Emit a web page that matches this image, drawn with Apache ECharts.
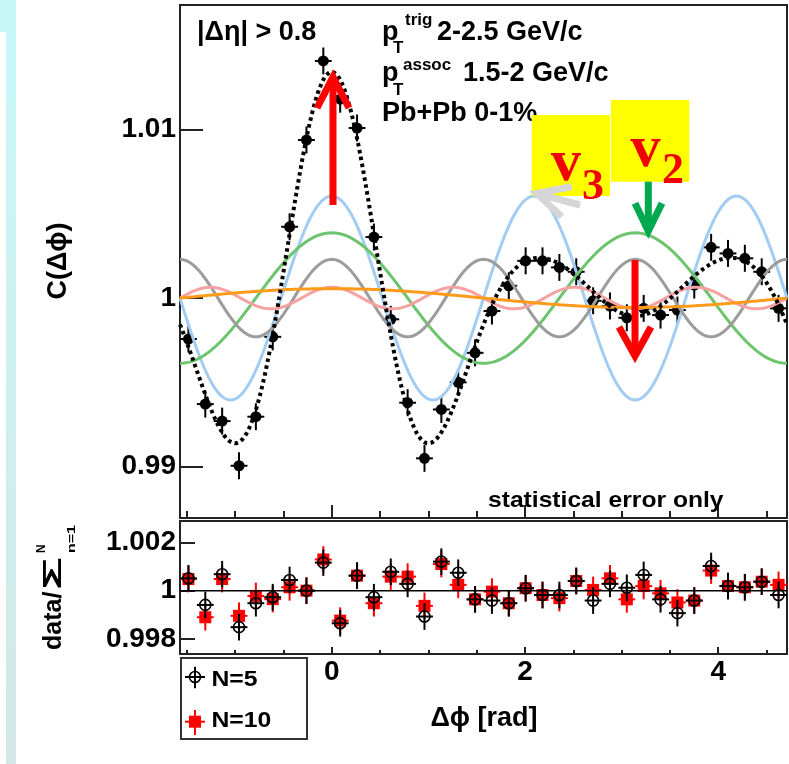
<!DOCTYPE html>
<html><head><meta charset="utf-8">
<script src="https://cdn.jsdelivr.net/npm/echarts@6/dist/echarts.min.js"></script>
<style>html,body{margin:0;padding:0;background:#fff}#c{width:789px;height:764px}</style>
</head><body><div id="c"></div>
<script>
// ---------------- data ----------------
const xMin = -Math.PI / 2, xMax = 3 * Math.PI / 2;
const binHalfWidth = Math.PI / 36;
const binCenters = [-1.4835,-1.3090,-1.1345,-0.9599,-0.7854,-0.6109,-0.4363,-0.2618,-0.0873,0.0873,0.2618,0.4363,
  0.6109,0.7854,0.9599,1.1345,1.3090,1.4835,1.6581,1.8326,2.0071,2.1817,2.3562,2.5307,
  2.7053,2.8798,3.0543,3.2289,3.4034,3.5779,3.7525,3.9270,4.1015,4.2761,4.4506,4.6251];
const corrData = [0.99757,0.99371,0.99270,0.99005,0.99296,0.99770,1.00423,1.00938,1.01407,1.01180,1.01009,1.00362,
  0.99874,0.99379,0.99049,0.99339,0.99500,0.99675,0.99923,1.00073,1.00221,1.00221,1.00182,1.00156,
  0.99984,0.99953,0.99883,0.99939,0.99899,0.99929,1.00077,1.00301,1.00265,1.00236,1.00156,0.99939];
const corrErr = 0.0008;
const ratioN5 = [1.00051,0.99941,1.00068,0.99849,0.99948,0.99973,1.00044,1.00000,1.00116,0.99865,1.00062,0.99973,
  1.00078,1.00028,0.99893,1.00120,1.00074,0.99964,0.99959,0.99948,1.00010,0.99982,0.99982,1.00040,
  0.99959,1.00028,1.00012,1.00065,0.99964,0.99907,0.99959,1.00102,1.00019,1.00014,1.00037,0.99982];
const ratioN10 = [1.00048,0.99890,1.00048,0.99896,0.99978,0.99965,1.00014,1.00000,1.00129,0.99876,1.00062,0.99948,
  1.00058,1.00058,0.99937,1.00110,1.00024,0.99964,0.99996,0.99948,1.00010,0.99982,0.99969,1.00040,
  1.00003,1.00051,0.99964,1.00019,0.99989,0.99951,0.99959,1.00083,1.00019,1.00014,1.00037,1.00024];
const ratioErr = 0.00055;
// Fourier harmonics 1 + 2 v_n cos(n Δφ): order n and amplitude 2v_n
const harmonicN = [1, 2, 3, 4, 5];
const harmonicAmp = [0.00056, 0.00387, 0.00605, 0.00230, 0.00064];
const harmonicColor = ['#ff9a1a', '#6cc46c', '#a2ccf2', '#9c9c9c', '#f6a2a2'];
const drawOrder = [2, 1, 3, 4, 0];
const xMajorTicks = [0, 2, 4];
const xMinorTicks = [-1.5, -1, -0.5, 0.5, 1, 1.5, 2.5, 3, 3.5, 4.5];
const yTicksUpper = [0.99, 1, 1.01];
const yTicksLower = [0.998, 1, 1.002];

// ---------------- build ----------------
const sampleX = [];
for (let k = 0; k <= 300; k++) sampleX.push(xMin + (xMax - xMin) * k / 300);
const harmonicCurve = i => sampleX.map(x => [x, 1 + harmonicAmp[i] * Math.cos(harmonicN[i] * x)]);
const fitCurve = sampleX.map(x => {
  let s = 1; harmonicN.forEach((n, i) => { s += harmonicAmp[i] * Math.cos(n * x); }); return [x, s];
});
const pts = arr => binCenters.map((x, i) => [x, arr[i]]);

const FONT = '"Liberation Sans", Arial, Helvetica, sans-serif';
const SERIF = '"Liberation Serif", "Times New Roman", serif';

function errRender(color, marker, errY) {
  return function (params, api) {
    const x = api.value(0), y = api.value(1);
    const c = api.coord([x, y]);
    const t = api.coord([x, y + errY]), b = api.coord([x, y - errY]);
    const l = api.coord([x - binHalfWidth, y]), r = api.coord([x + binHalfWidth, y]);
    const ch = [
      {type: 'line', shape: {x1: c[0], y1: t[1], x2: c[0], y2: b[1]}, style: {stroke: color, lineWidth: 2}},
      {type: 'line', shape: {x1: l[0], y1: c[1], x2: r[0], y2: c[1]}, style: {stroke: color, lineWidth: 2}}
    ];
    if (marker === 'dot') ch.push({type: 'circle', shape: {cx: c[0], cy: c[1], r: 5.5}, style: {fill: color}});
    if (marker === 'open') ch.push({type: 'circle', shape: {cx: c[0], cy: c[1], r: 5.5}, style: {fill: null, stroke: color, lineWidth: 1.6}});
    if (marker === 'square') ch.push({type: 'rect', shape: {x: c[0] - 6, y: c[1] - 6, width: 12, height: 12}, style: {fill: color}});
    return {type: 'group', children: ch};
  };
}

function xAx(gridIndex, ticks, len, labels) {
  return {
    type: 'value', gridIndex, min: xMin, max: xMax, position: 'bottom',
    axisLine: {show: false, onZero: false}, splitLine: {show: false},
    axisTick: {show: true, inside: true, length: len, customValues: ticks, lineStyle: {color: '#222', width: 2}},
    axisLabel: labels ? {show: true, customValues: labels, formatter: v => String(v), margin: 4,
      color: '#000', fontSize: 28, fontWeight: 'bold', fontFamily: FONT} : {show: false}
  };
}
function yAx(gridIndex, min, max, ticks, len) {
  return {
    type: 'value', gridIndex, min, max, position: 'left',
    axisLine: {show: false, onZero: false}, splitLine: {show: false},
    axisTick: {show: true, inside: true, length: len, customValues: ticks, lineStyle: {color: '#222', width: 2}},
    axisLabel: {show: true, customValues: ticks, formatter: v => String(v), margin: 4,
      color: '#000', fontSize: 28, fontWeight: 'bold', fontFamily: FONT}
  };
}

function txt(x, y, text, font, o) {
  o = o || {};
  return {type: 'text', x, y, z: 20, rotation: o.rot || 0, scaleX: o.sx || 1, scaleY: 1,
    style: {text, font, fill: o.fill || '#000', align: o.align || 'left', textAlign: o.align || 'left',
      verticalAlign: 'middle', textVerticalAlign: 'middle'}};
}
function pl(points, color, w, z) {
  return {type: 'polyline', z: z || 20, shape: {points}, style: {stroke: color, lineWidth: w, fill: null, lineJoin: 'miter', lineCap: 'butt'}};
}

const series = [];
drawOrder.forEach(i => series.push({type: 'line', xAxisIndex: 0, yAxisIndex: 0, data: harmonicCurve(i),
  showSymbol: false, symbol: 'none', silent: true, lineStyle: {color: harmonicColor[i], width: 3}}));
series.push({type: 'line', xAxisIndex: 0, yAxisIndex: 0, data: fitCurve, showSymbol: false, symbol: 'none', silent: true,
  lineStyle: {color: '#000', width: 4, type: [3.5, 3.5]}});
series.push({type: 'custom', xAxisIndex: 0, yAxisIndex: 0, data: pts(corrData), renderItem: errRender('#000', 'dot', corrErr), silent: true});
series.push({type: 'line', xAxisIndex: 2, yAxisIndex: 1, data: [[xMin, 1], [xMax, 1]], showSymbol: false, symbol: 'none', silent: true,
  lineStyle: {color: '#000', width: 1.5}});
series.push({type: 'custom', xAxisIndex: 2, yAxisIndex: 1, data: pts(ratioN10), renderItem: errRender('#ff0000', 'square', ratioErr), silent: true});
series.push({type: 'custom', xAxisIndex: 2, yAxisIndex: 1, data: pts(ratioN5), renderItem: errRender('#000', 'open', ratioErr), silent: true});

const HF = 'bold 27px ' + FONT, SF = 'bold 17px ' + FONT;
const graphic = [
  {type: 'rect', z: 1, shape: {x: 0, y: 0, width: 16, height: 32}, style: {fill: '#c8f7f7'}},
  {type: 'rect', z: 1, shape: {x: 6, y: 32, width: 10, height: 732},
    style: {fill: new echarts.graphic.LinearGradient(0, 0, 0, 1, [{offset: 0, color: '#c8f7f7'}, {offset: 1, color: '#d3e7e7'}])}},
  // header text
  txt(197, 33, '|Δη| > 0.8', HF),
  txt(382, 33, 'p', HF), txt(405, 20, 'trig', SF), txt(393, 48, 'T', SF), txt(437, 33, '2-2.5 GeV/c', HF),
  txt(382, 74, 'p', HF), txt(403, 65.5, 'assoc', SF), txt(393, 90, 'T', SF), txt(463, 74, '1.5-2 GeV/c', HF),
  txt(382, 114, 'Pb+Pb 0-1%', HF),
  // yellow boxes
  {type: 'rect', z: 21, shape: {x: 531.7, y: 115, width: 78.3, height: 81}, style: {fill: '#ffff00'}},
  {type: 'rect', z: 21, shape: {x: 611, y: 100, width: 78.3, height: 81.7}, style: {fill: '#ffff00'}},
  // arrows
  pl([[580, 205], [540, 194.3]], '#d6d6d6', 7, 22),
  pl([[571.7, 186.7], [536.7, 193.3], [561.7, 216.7]], '#d6d6d6', 7, 22),
  pl([[648.3, 181.7], [648.3, 226]], '#00a84f', 7, 22),
  pl([[635, 203.3], [648.3, 231], [662, 203.3]], '#00a84f', 7, 22),
  pl([[333, 205], [333, 82]], '#ff0000', 7, 22),
  pl([[317, 108], [333, 77], [349, 108]], '#ff0000', 7, 22),
  pl([[635, 260], [635, 352]], '#ff0000', 7, 22),
  pl([[619, 327], [635, 356], [651, 327]], '#ff0000', 7, 22),
  // v labels
  Object.assign(txt(551, 164.4, 'v', 'bold 60px ' + SERIF, {fill: '#f00000'}), {z: 23}),
  Object.assign(txt(582, 187.3, '3', 'bold 44px ' + SERIF, {fill: '#f00000'}), {z: 23}),
  Object.assign(txt(630.5, 150.4, 'v', 'bold 60px ' + SERIF, {fill: '#f00000'}), {z: 23}),
  Object.assign(txt(662, 171.7, '2', 'bold 44px ' + SERIF, {fill: '#f00000'}), {z: 23}),
  // statistical error only
  txt(488, 501, 'statistical error only', 'bold 22px ' + FONT, {sx: 1.12}),
  // axis titles
  txt(59, 261, 'C(Δϕ)', 'bold 27px ' + FONT, {rot: Math.PI / 2, align: 'center'}),
  txt(484, 719, 'Δϕ [rad]', 'bold 27px ' + FONT, {align: 'center'}),
  txt(54.3, 650, 'data/', 'bold 25px ' + FONT, {rot: Math.PI / 2}),
  txt(54.3, 590, 'Σ', 'bold 25px ' + FONT, {rot: Math.PI / 2, sx: 2.2}),
  txt(41.5, 553, 'N', 'bold 12px ' + FONT, {rot: Math.PI / 2}),
  txt(71.5, 553, 'n=1', 'bold 11px ' + FONT, {rot: Math.PI / 2, sx: 1.45}),
  // legend
  {type: 'rect', z: 20, shape: {x: 181, y: 658, width: 126, height: 81}, style: {fill: '#fff', stroke: '#333', lineWidth: 2}},
  pl([[185, 677], [205, 677]], '#000', 2, 21), pl([[195, 666.7], [195, 688.3]], '#000', 2, 21),
  {type: 'circle', z: 22, shape: {cx: 195, cy: 677, r: 5.5}, style: {fill: null, stroke: '#000', lineWidth: 1.6}},
  pl([[185, 721.7], [205, 721.7]], '#ff0000', 2, 21), pl([[195, 710], [195, 735]], '#ff0000', 2, 21),
  {type: 'rect', z: 22, shape: {x: 189, y: 715.7, width: 12, height: 12}, style: {fill: '#ff0000'}},
  txt(211.5, 680, 'N=5', 'bold 21.5px ' + FONT, {sx: 1.15}),
  txt(211.5, 721, 'N=10', 'bold 21.5px ' + FONT, {sx: 1.15})
];

const chart = echarts.init(document.getElementById('c'), null, {renderer: 'canvas'});
chart.setOption({
  animation: false,
  backgroundColor: '#fff',
  grid: [
    {left: 180, top: 5, width: 607, height: 513, show: true, borderColor: '#222', borderWidth: 2, backgroundColor: 'transparent'},
    {left: 180, top: 521, width: 607, height: 133, show: true, borderColor: '#222', borderWidth: 2, backgroundColor: 'transparent'}
  ],
  xAxis: [
    xAx(0, xMajorTicks, 13, null), xAx(0, xMinorTicks, 7, null),
    xAx(1, xMajorTicks, 7, xMajorTicks), xAx(1, xMinorTicks, 4, null)
  ],
  yAxis: [
    yAx(0, 0.98695, 1.01739, yTicksUpper, 23),
    yAx(1, 0.99738, 1.00288, yTicksLower, 15)
  ],
  series,
  graphic
});
</script></body></html>
